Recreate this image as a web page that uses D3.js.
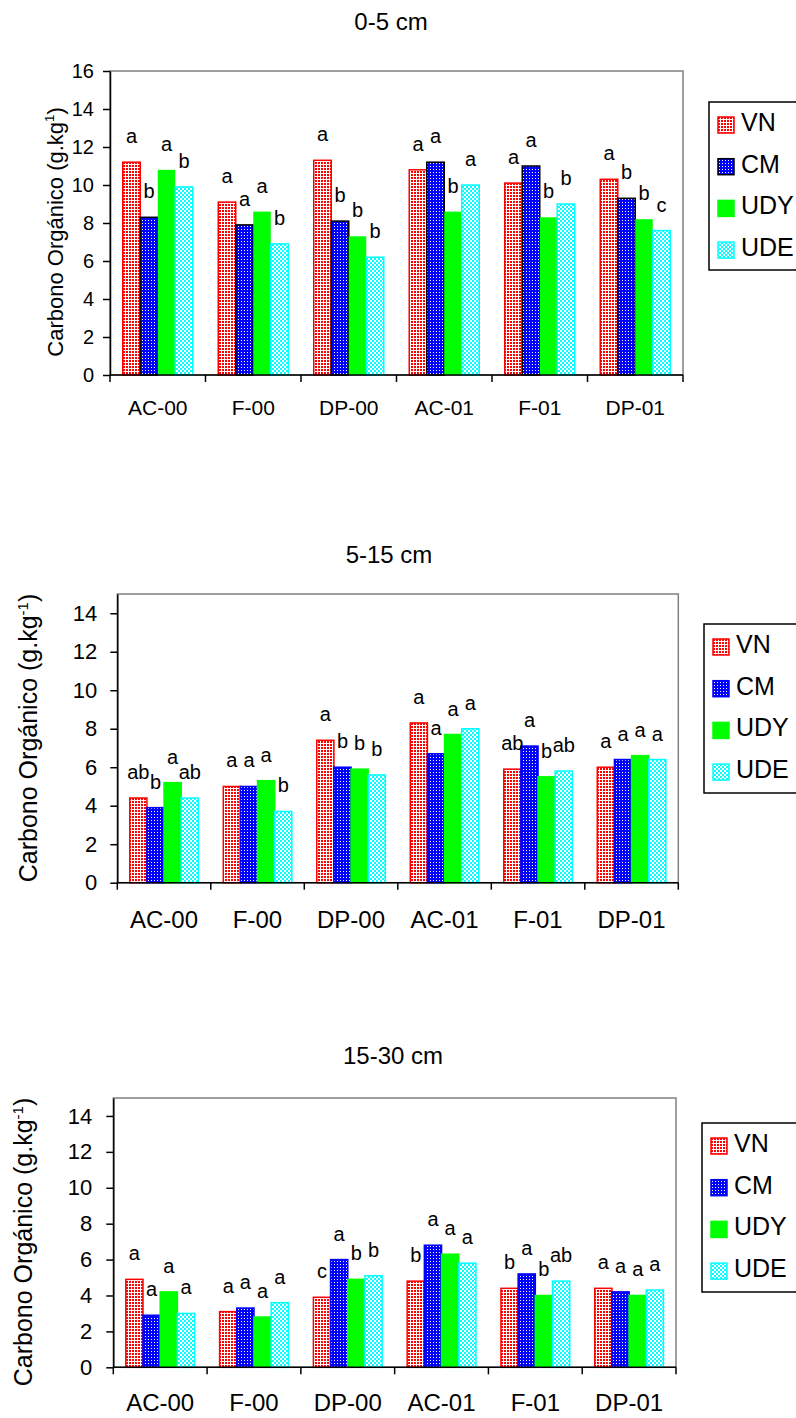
<!DOCTYPE html>
<meta charset="UTF-8">
<script src="https://d3js.org/d3.v7.min.js"></script>
<style>
  body { margin: 0; background: #fff; }
  text { font-family: "Liberation Sans", Arial, sans-serif; fill: #000; }
</style>
<svg id="chart" width="796" height="1418"></svg>
<script>

// categories and series
var cats = ["AC-00", "F-00", "DP-00", "AC-01", "F-01", "DP-01"];
var series = ["VN", "CM", "UDY", "UDE"];

// 0-5 cm
var vn05  = [11.2, 9.1, 11.3, 10.8, 10.1, 10.3];
var cm05  = [8.3, 7.9, 8.1, 11.2, 11.0, 9.3];
var udy05 = [10.8, 8.6, 7.3, 8.6, 8.3, 8.2];
var ude05 = [9.9, 6.9, 6.2, 10.0, 9.0, 7.6];
var sig05 = [["a","b","a","b"], ["a","a","a","b"], ["a","b","b","b"],
             ["a","a","b","a"], ["a","a","b","b"], ["a","b","b","c"]];

// 5-15 cm
var vn515  = [4.4, 5.0, 7.4, 8.3, 5.9, 6.0];
var cm515  = [3.9, 5.0, 6.0, 6.7, 7.1, 6.4];
var udy515 = [5.2, 5.3, 5.9, 7.7, 5.5, 6.6];
var ude515 = [4.4, 3.7, 5.6, 8.0, 5.8, 6.4];
var sig515 = [["ab","b","a","ab"], ["a","a","a","b"], ["a","b","b","b"],
              ["a","a","a","a"], ["ab","a","b","ab"], ["a","a","a","a"]];

// 15-30 cm
var vn1530  = [4.9, 3.1, 3.9, 4.8, 4.4, 4.4];
var cm1530  = [2.9, 3.3, 6.0, 6.8, 5.2, 4.2];
var udy1530 = [4.2, 2.8, 4.9, 6.3, 4.0, 4.0];
var ude1530 = [3.0, 3.6, 5.1, 5.8, 4.8, 4.3];
var sig1530 = [["a","a","a","a"], ["a","a","a","a"], ["c","a","b","b"],
               ["b","a","a","a"], ["b","a","b","ab"], ["a","a","a","a"]];

var yTicks16 = [0, 2, 4, 6, 8, 10, 12, 14, 16];
var yTicks14 = [0, 2, 4, 6, 8, 10, 12, 14];

var svg = d3.select("#chart");
var defs = svg.append("defs");

// fill patterns (dotted, like the spreadsheet fills)
function pattern(id, size, bg, fg, cells) {
  var p = defs.append("pattern").attr("id", id)
    .attr("patternUnits", "userSpaceOnUse")
    .attr("width", size).attr("height", size);
  p.append("rect").attr("width", size).attr("height", size).attr("fill", bg)
    .attr("shape-rendering", "crispEdges");
  cells.forEach(function(c) {
    p.append("rect").attr("x", c[0]).attr("y", c[1])
      .attr("width", c[2]).attr("height", c[3]).attr("fill", fg)
      .attr("shape-rendering", "crispEdges");
  });
}
pattern("pVN", 3, "#ffffff", "#ff0000", [[0,0,2,2]]);
pattern("pCM", 3, "#0000ff", "#ffffff", [[1,1,1,1]]);
pattern("pUDE", 4, "#ffffff", "#00ffff", [[0,0,2,2],[2,2,2,2]]);

var panels = [
  { title: "0-5 cm", vals: [vn05, cm05, udy05, ude05], sig: sig05, yMax: 16, ticks: yTicks16,
    l: 110, r: 683, t: 71, b: 375, titleY: 30, titleX: 391,
    ySup: "1", yTitleX: 63, yTitleY: 232, yTitleSize: 22, tickSize: 20, tickPad: 9,
    catSize: 21, catDy: 40, cmStroke: "#000000", udyStroke: "none",
    legX: 709, legY: 102, legH: 168 },
  { title: "5-15 cm", vals: [vn515, cm515, udy515, ude515], sig: sig515, yMax: 15, ticks: yTicks14,
    l: 117.3, r: 678.3, t: 594, b: 882.7, titleY: 563, titleX: 389,
    ySup: "-1", yTitleX: 37, yTitleY: 738, yTitleSize: 25, tickSize: 22, tickPad: 13,
    catSize: 24, catDy: 45, cmStroke: "#0000ff", udyStroke: "#00ff00",
    legX: 704, legY: 624, legH: 169 },
  { title: "15-30 cm", vals: [vn1530, cm1530, udy1530, ude1530], sig: sig1530, yMax: 15, ticks: yTicks14,
    l: 113.3, r: 676, t: 1098, b: 1367.3, titleY: 1064, titleX: 393,
    ySup: "-1", yTitleX: 32, yTitleY: 1242, yTitleSize: 25, tickSize: 22, tickPad: 14,
    catSize: 24, catDy: 44, cmStroke: "#0000ff", udyStroke: "#00ff00",
    legX: 702, legY: 1123, legH: 169 }
];

panels.forEach(function(P) {
  var g = svg.append("g");

  var x = d3.scaleBand().domain(cats).range([P.l, P.r])
    .paddingInner(0.267).paddingOuter(0.1335);
  var xs = d3.scaleBand().domain(series).range([0, x.bandwidth()]);
  var y = d3.scaleLinear().domain([0, P.yMax]).range([P.b, P.t]);

  var fills = ["url(#pVN)", "url(#pCM)", "#00ff00", "url(#pUDE)"];
  var strokes = ["#ff0000", P.cmStroke, P.udyStroke, "#00ffff"];

  // title
  g.append("text").attr("x", P.titleX).attr("y", P.titleY)
    .attr("text-anchor", "middle").style("font-size", "24px").text(P.title);

  // plot area border
  g.append("rect").attr("x", P.l).attr("y", P.t)
    .attr("width", P.r - P.l).attr("height", P.b - P.t)
    .attr("fill", "none").attr("stroke", "#808080").attr("stroke-width", 1.5);

  // bars
  var rows = [];
  cats.forEach(function(c, i) {
    series.forEach(function(s, j) {
      rows.push({ cat: c, s: s, j: j, v: P.vals[j][i], lab: P.sig[i][j] });
    });
  });

  g.selectAll("rect.bar").data(rows).enter().append("rect")
    .attr("class", "bar")
    .attr("x", function(d) { return x(d.cat) + xs(d.s); })
    .attr("y", function(d) { return y(d.v); })
    .attr("width", xs.bandwidth())
    .attr("height", function(d) { return y(0) - y(d.v); })
    .attr("fill", function(d) { return fills[d.j]; })
    .attr("stroke", function(d) { return strokes[d.j]; })
    .attr("stroke-width", 1.5);

  // significance letters
  g.selectAll("text.sig").data(rows).enter().append("text")
    .attr("class", "sig")
    .attr("x", function(d) { return x(d.cat) + xs(d.s) + xs.bandwidth() / 2; })
    .attr("y", function(d) { return y(d.v) - 19; })
    .attr("text-anchor", "middle")
    .style("font-size", "20px")
    .text(function(d) { return d.lab; });

  // y axis
  var ya = g.append("g").attr("transform", "translate(" + P.l + ",0)")
    .call(d3.axisLeft(y).tickValues(P.ticks).tickSize(7).tickPadding(P.tickPad).tickSizeOuter(0));
  ya.select(".domain").attr("stroke", "#000").attr("stroke-width", 1.5);
  ya.selectAll(".tick line").attr("stroke", "#000").attr("stroke-width", 1.5);
  ya.selectAll(".tick text").style("font-size", P.tickSize + "px")
    .style("font-family", "'Liberation Sans', Arial, sans-serif").attr("fill", "#000");

  // x axis: line, boundary ticks, labels
  g.append("line").attr("x1", P.l).attr("x2", P.r).attr("y1", P.b).attr("y2", P.b)
    .attr("stroke", "#000").attr("stroke-width", 1.5);
  var bounds = d3.range(cats.length + 1);
  g.selectAll("line.xt").data(bounds).enter().append("line")
    .attr("x1", function(i) { return P.l + i * x.step(); })
    .attr("x2", function(i) { return P.l + i * x.step(); })
    .attr("y1", P.b).attr("y2", P.b + 7)
    .attr("stroke", "#000").attr("stroke-width", 1.5);
  g.selectAll("text.cat").data(cats).enter().append("text")
    .attr("class", "cat")
    .attr("x", function(c) { return x(c) + x.bandwidth() / 2; })
    .attr("y", P.b + P.catDy)
    .attr("text-anchor", "middle")
    .style("font-size", P.catSize + "px")
    .text(function(c) { return c; });

  // y title
  var yt = g.append("text")
    .attr("transform", "translate(" + P.yTitleX + "," + P.yTitleY + ") rotate(-90)")
    .attr("text-anchor", "middle")
    .style("font-size", P.yTitleSize + "px");
  yt.append("tspan").text("Carbono Orgánico (g.kg");
  yt.append("tspan").attr("dy", -9).style("font-size", (P.yTitleSize * 0.6) + "px").text(P.ySup);
  yt.append("tspan").attr("dy", 9).text(")");

  // legend
  var lg = g.append("g").attr("transform", "translate(" + P.legX + "," + P.legY + ")");
  lg.append("rect").attr("width", 110).attr("height", P.legH)
    .attr("fill", "#fff").attr("stroke", "#000").attr("stroke-width", 1.5);
  series.forEach(function(s, j) {
    var cy = 20 + j * 41.7;
    lg.append("rect").attr("x", 9).attr("y", cy - 5).attr("width", 16).attr("height", 16)
      .attr("fill", fills[j]).attr("stroke", j === 2 ? "#00ff00" : strokes[j]).attr("stroke-width", 1.5);
    lg.append("text").attr("x", 32).attr("y", cy + 9).style("font-size", "25px").text(s);
  });
});

</script>
